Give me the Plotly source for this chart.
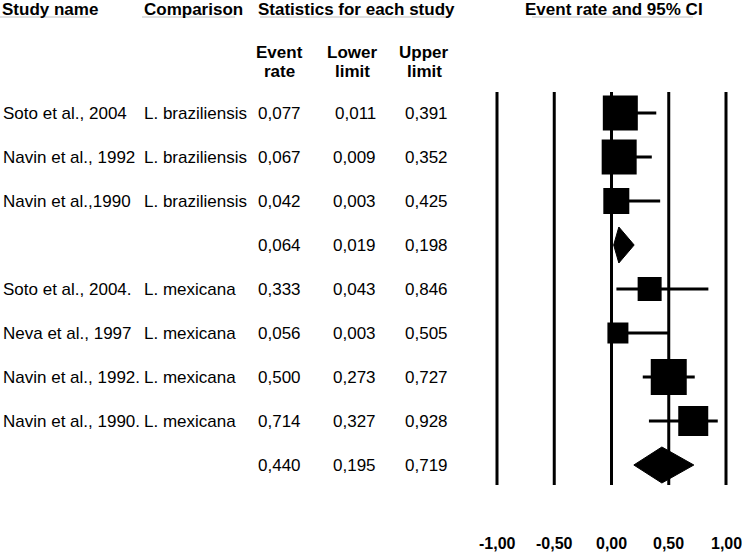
import plotly.graph_objects as go

# ---------------- data ----------------
study_names = ["Soto et al., 2004", "Navin et al., 1992", "Navin et al.,1990", "",
               "Soto et al., 2004.", "Neva et al., 1997", "Navin et al., 1992.", "Navin et al., 1990.", ""]
comparisons = ["L. braziliensis", "L. braziliensis", "L. braziliensis", "",
               "L. mexicana", "L. mexicana", "L. mexicana", "L. mexicana", ""]
event_rate = [0.077, 0.067, 0.042, 0.064, 0.333, 0.056, 0.500, 0.714, 0.440]
lower_limit = [0.011, 0.009, 0.003, 0.019, 0.043, 0.003, 0.273, 0.327, 0.195]
upper_limit = [0.391, 0.352, 0.425, 0.198, 0.846, 0.505, 0.727, 0.928, 0.719]
is_summary = [False, False, False, True, False, False, False, False, True]
tick_values = [-1.0, -0.5, 0.0, 0.5, 1.0]
tick_labels = ["-1,00", "-0,50", "0,00", "0,50", "1,00"]

# ---------------- styles ----------------
square_sizes = [35, 35, 26, 0, 24, 21, 36, 30, 0]
W, H = 742, 554
FONT = "Liberation Sans, Arial, Helvetica, sans-serif"
X0PX, XSCALE = 611.5, 114.5      # pixel of 0 and px per unit
Y0PX, YSTEP = 113.0, 44.0        # pixel of row 0 and px per row

def px(x):
    return x / W

def py(y):
    return 1 - y / H

fig = go.Figure()

rows = list(range(len(event_rate)))

# whiskers
for i in rows:
    if is_summary[i]:
        continue
    fig.add_trace(go.Scatter(x=[lower_limit[i], upper_limit[i]], y=[i, i], mode="lines",
                             line=dict(color="black", width=3), showlegend=False, hoverinfo="skip"))

# squares
sq_x = [event_rate[i] for i in rows if not is_summary[i]]
sq_y = [i for i in rows if not is_summary[i]]
sq_s = [square_sizes[i] for i in rows if not is_summary[i]]
fig.add_trace(go.Scatter(x=sq_x, y=sq_y, mode="markers",
                         marker=dict(symbol="square", size=sq_s, color="black", opacity=1,
                                     line=dict(width=0)),
                         showlegend=False, hoverinfo="skip"))

# diamonds
half_h = 18 / YSTEP
for i in rows:
    if not is_summary[i]:
        continue
    fig.add_trace(go.Scatter(
        x=[lower_limit[i], event_rate[i], upper_limit[i], event_rate[i], lower_limit[i]],
        y=[i, i - half_h, i, i + half_h, i],
        mode="lines", fill="toself", fillcolor="black",
        line=dict(color="black", width=1), showlegend=False, hoverinfo="skip"))

shapes = []
# vertical reference lines
y_top = (92 - Y0PX) / YSTEP
y_bot = (485 - Y0PX) / YSTEP
for v in tick_values:
    shapes.append(dict(type="line", xref="x", yref="y", x0=v, x1=v, y0=y_top, y1=y_bot,
                       line=dict(color="black", width=3), layer="below"))

# header underlines
for x0, x1 in [(0, 90), (142, 235), (260, 448), (532, 693)]:
    shapes.append(dict(type="line", xref="paper", yref="paper", x0=px(x0), x1=px(x1),
                       y0=py(17), y1=py(17), line=dict(color="#c0c0c0", width=1)))

ann = []

def add_text(text, x, y, anchor="left", size=17, bold=False):
    ann.append(dict(text=f"<b>{text}</b>" if bold else text, x=px(x), y=py(y),
                    xref="paper", yref="paper", xanchor=anchor, yanchor="middle",
                    showarrow=False, font=dict(family=FONT, size=size, color="black")))

# headers
add_text("Study name", 0, 9, bold=True)
add_text("Comparison", 142, 9, bold=True)
add_text("Statistics for each study", 256, 9, bold=True)
add_text("Event rate and 95% CI", 523, 9, bold=True)
for xc, l1, l2 in [(279, "Event", "rate"), (352, "Lower", "limit"), (424, "Upper", "limit")]:
    add_text(l1, xc, 52, anchor="center", bold=True)
    add_text(l2, xc, 72, anchor="center", bold=True)

def fmt(v):
    return f"{v:.3f}".replace(".", ",")

for i in rows:
    yy = Y0PX + YSTEP * i
    if study_names[i]:
        add_text(study_names[i], 1, yy)
    if comparisons[i]:
        add_text(comparisons[i], 142, yy)
    add_text(fmt(event_rate[i]), 303, yy, anchor="right")
    add_text(fmt(lower_limit[i]), 378, yy, anchor="right")
    add_text(fmt(upper_limit[i]), 450, yy, anchor="right")

# axis tick labels
for v, t in zip(tick_values, tick_labels):
    ann.append(dict(text=f"<b>{t}</b>", x=v, y=py(543), xref="x", yref="paper",
                    xanchor="center", yanchor="middle", showarrow=False,
                    font=dict(family=FONT, size=16, color="black")))

fig.update_layout(
    width=W, height=H,
    margin=dict(l=0, r=0, t=0, b=0),
    paper_bgcolor="white", plot_bgcolor="white",
    xaxis=dict(range=[-X0PX / XSCALE, (W - X0PX) / XSCALE], visible=False, fixedrange=True),
    yaxis=dict(range=[(H - Y0PX) / YSTEP, -Y0PX / YSTEP], visible=False, fixedrange=True),
    shapes=shapes, annotations=ann, showlegend=False,
)

fig.write_html("out.html", config={"displayModeBar": False},
               post_script="document.body.style.margin='0';document.body.style.overflow='hidden';")
